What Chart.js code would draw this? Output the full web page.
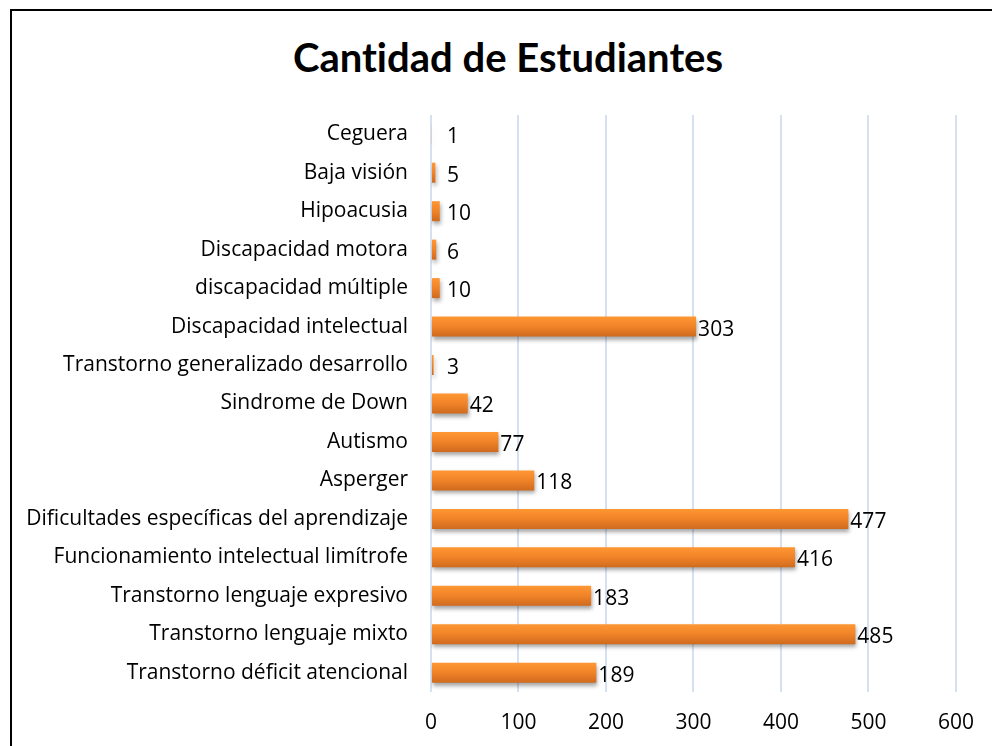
<!DOCTYPE html>
<html>
<head>
<meta charset="utf-8">
<script src="https://cdn.jsdelivr.net/npm/chart.js@4.4.0/dist/chart.umd.min.js"></script>
<style>
  body { margin: 0; background: #fff; overflow: hidden; }
  #wrap { position: relative; width: 992px; height: 746px; }
  #frame { position: absolute; left: 10px; top: 9px; width: 1010px; height: 780px; border: 2px solid #000; }
  #titulo { position: absolute; left: 0; top: 33px; width: 1016px; text-align: center; line-height: 48px;
            font: bold 40px Lato, "Open Sans", sans-serif; font-variant-ligatures: none; color: #000; margin: 0; }
  canvas { position: absolute; left: 0; top: 0; }
</style>
</head>
<body>
<div id="wrap">
  <div id="frame"></div>
  <h1 id="titulo">Cantidad de Estudiantes</h1>
  <canvas id="grafico" width="992" height="746"></canvas>
</div>
<script>
// Categorías (de arriba hacia abajo, como en la figura)
const categorias = [
    'Ceguera',
    'Baja visión',
    'Hipoacusia',
    'Discapacidad motora',
    'discapacidad múltiple',
    'Discapacidad intelectual',
    'Transtorno generalizado desarrollo',
    'Sindrome de Down',
    'Autismo',
    'Asperger',
    'Dificultades específicas del aprendizaje',
    'Funcionamiento intelectual limítrofe',
    'Transtorno lenguaje expresivo',
    'Transtorno lenguaje mixto',
    'Transtorno déficit atencional'
];

// Cantidad de estudiantes por categoría
const cantidades = [1, 5, 10, 6, 10, 303, 3, 42, 77, 118, 477, 416, 183, 485, 189];

// Marcas del eje x
const ticksX = [0, 100, 200, 300, 400, 500, 600];

const fuente = '"Open Sans", Lato, sans-serif';
const tamano = 21;

// Degradado vertical de cada barra
function colorBarra(context) {
    const chart = context.chart;
    const escalaY = chart.scales.y;
    if (!escalaY || context.dataIndex === undefined) return '#F28A2B';
    const y = escalaY.getPixelForValue(context.dataIndex);
    if (!isFinite(y)) return '#F28A2B';
    const g = chart.ctx.createLinearGradient(0, y - 10, 0, y + 10);
    g.addColorStop(0, '#FF9733');
    g.addColorStop(0.5, '#F08328');
    g.addColorStop(1, '#CF6A1E');
    return g;
}

// Sombra debajo de las barras
const sombra = {
    id: 'sombra',
    beforeDatasetDraw(chart) {
        const ctx = chart.ctx;
        ctx.save();
        ctx.shadowColor = 'rgba(0,0,0,0.35)';
        ctx.shadowBlur = 4;
        ctx.shadowOffsetX = 1;
        ctx.shadowOffsetY = 3;
    },
    afterDatasetDraw(chart) {
        chart.ctx.restore();
    }
};

// Etiquetas de valor al final de cada barra
const etiquetas = {
    id: 'etiquetas',
    afterDatasetsDraw(chart) {
        const ctx = chart.ctx;
        const meta = chart.getDatasetMeta(0);
        const x0 = chart.scales.x.getPixelForValue(0);
        ctx.save();
        ctx.font = tamano + 'px ' + fuente;
        ctx.fillStyle = '#000';
        ctx.textAlign = 'left';
        ctx.textBaseline = 'middle';
        meta.data.forEach((barra, i) => {
            const x = Math.max(barra.x + 2, x0 + 16);
            ctx.fillText(String(cantidades[i]), x, barra.y + 3);
        });
        ctx.restore();
    }
};

const ctx = document.getElementById('grafico').getContext('2d');
const grafico = new Chart(ctx, {
    type: 'bar',
    data: {
        labels: categorias,
        datasets: [{
            label: 'Cantidad de Estudiantes',
            data: cantidades,
            backgroundColor: colorBarra,
            borderWidth: 0,
            barPercentage: 0.52,
            categoryPercentage: 1
        }]
    },
    options: {
        indexAxis: 'y',
        responsive: false,
        animation: false,
        layout: { padding: { left: 0, right: 34, top: 115, bottom: 0 } },
        plugins: {
            legend: { display: false },
            title: { display: false },
            tooltip: { enabled: false }
        },
        scales: {
            x: {
                min: 0,
                max: 600,
                afterBuildTicks(axis) { axis.ticks = ticksX.map(v => ({ value: v })); },
                afterFit(axis) { axis.height = 54; },
                grid: { color: '#D5E1F1', lineWidth: 2, drawTicks: false },
                border: { display: false },
                ticks: { color: '#000', font: { family: fuente, size: tamano }, padding: 18 }
            },
            y: {
                afterFit(axis) { axis.width = 431; },
                grid: { display: false, drawTicks: false },
                border: { display: false },
                ticks: { color: '#000', font: { family: fuente, size: tamano }, padding: 23, autoSkip: false }
            }
        }
    },
    plugins: [sombra, etiquetas]
});
</script>
</body>
</html>
